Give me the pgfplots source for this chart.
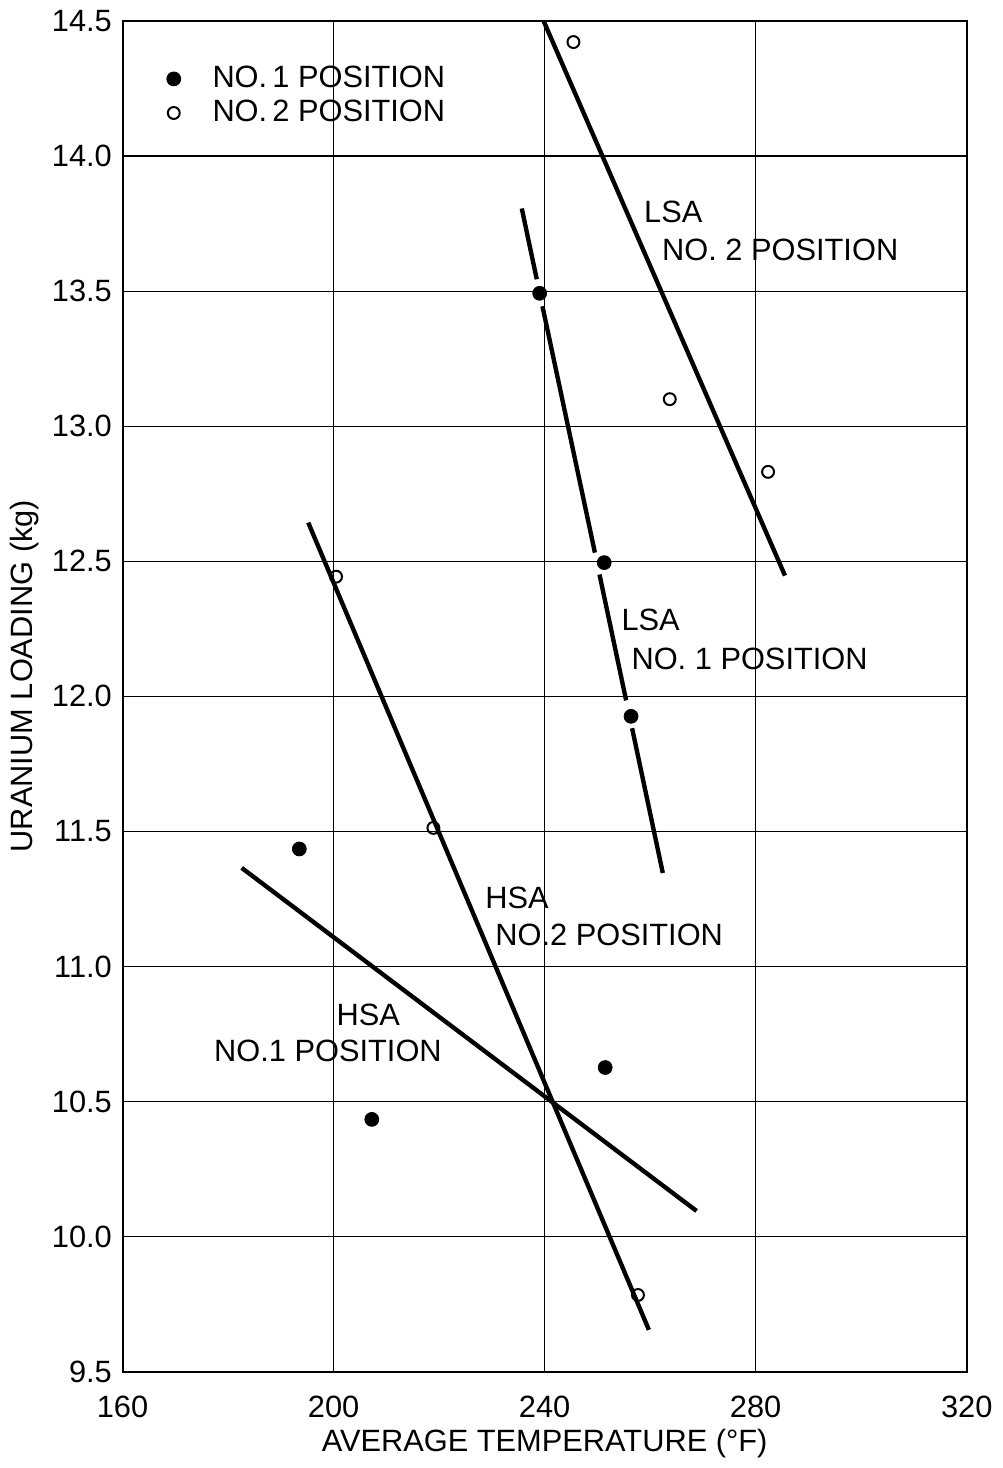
\documentclass[border=0pt]{standalone}
\usepackage{fontspec}
\setmainfont{Liberation Sans}
\usepackage{pgfplots}
\pgfplotsset{compat=1.18}

\begin{document}
\fontsize{15.5}{18}\selectfont
\begin{tikzpicture}
\begin{axis}[
  scale only axis,
  width=425pt, height=680pt,
  xmin=160, xmax=320,
  ymin=9.5, ymax=14.5,
  xtick={160,200,...,320},
  ytick={9.5,10,...,14.5},
  /pgf/number format/assume math mode=true,
  yticklabel style={/pgf/number format/.cd, fixed, fixed zerofill, precision=1},
  xticklabel style={yshift=-7pt, /pgf/number format/.cd, fixed, precision=0, 1000 sep={}},
  tick label style={font=\fontsize{15.5}{18}\selectfont},
  label style={font=\fontsize{15.5}{18}\selectfont},
  major tick length=0pt,
  grid=major,
  grid style={black, line width=0.6pt},
  axis line style={black, line width=1pt},
  xlabel={AVERAGE TEMPERATURE (°F)},
  ylabel={URANIUM LOADING (kg)},
  ylabel style={at={(ticklabel cs:0.515,-4pt)}},
  xlabel style={yshift=5pt},
  unbounded coords=jump,
  clip=true,
  legend style={at={(rel axis cs:0.052,0.97)}, anchor=north west,
    draw=none, fill=none, font=\fontsize{15.5}{18}\selectfont,
    column sep=14pt, row sep=0pt, inner sep=0pt},
  legend cell align=left,
]
% fitted lines
\addplot [black, line width=2.2pt, forget plot] coordinates {(239.81,14.5) (285.55,12.447)};
\addplot [black, line width=2.2pt, forget plot] coordinates {
  (235.67,13.806) (238.51,13.544) (nan,nan)
  (239.59,13.444) (249.53,12.532) (nan,nan)
  (250.40,12.451) (255.45,11.985) (nan,nan)
  (256.58,11.882) (262.40,11.346)};
\addplot [black, line width=2.2pt, forget plot] coordinates {(195.20,12.643) (259.76,9.655)};
\addplot [black, line width=2.2pt, forget plot] coordinates {(182.59,11.365) (268.80,10.095)};
% no. 1 position
\addplot [only marks, mark=*, mark size=3.5pt, mark options={fill=black, draw=black}] coordinates {
  (239.06,13.492) (251.29,12.495) (256.38,11.926)
  (193.51,11.435) (207.25,10.434) (251.48,10.626)};
\addlegendentry{NO.\,1 POSITION}
% no. 2 position
\addplot [only marks, mark=o, mark size=3pt, mark options={fill=white, draw=black, line width=1pt}] coordinates {
  (245.46,14.422) (263.72,13.100) (282.35,12.831)
  (200.47,12.443) (218.92,11.513) (257.69,9.784)};
\addlegendentry{NO.\,2 POSITION}
% labels
\node[anchor=west, inner sep=0pt] at (axis cs:258.8,13.795) {LSA};
\node[anchor=west, inner sep=0pt] at (axis cs:262.2,13.651) {NO. 2 POSITION};
\node[anchor=west, inner sep=0pt] at (axis cs:254.5,12.284) {LSA};
\node[anchor=west, inner sep=0pt] at (axis cs:256.4,12.140) {NO. 1 POSITION};
\node[anchor=west, inner sep=0pt] at (axis cs:228.7,11.254) {HSA};
\node[anchor=west, inner sep=0pt] at (axis cs:230.6,11.117) {NO.2 POSITION};
\node[anchor=west, inner sep=0pt] at (axis cs:200.5,10.822) {HSA};
\node[anchor=west, inner sep=0pt] at (axis cs:177.3,10.689) {NO.1 POSITION};
\end{axis}
\end{tikzpicture}
\end{document}
